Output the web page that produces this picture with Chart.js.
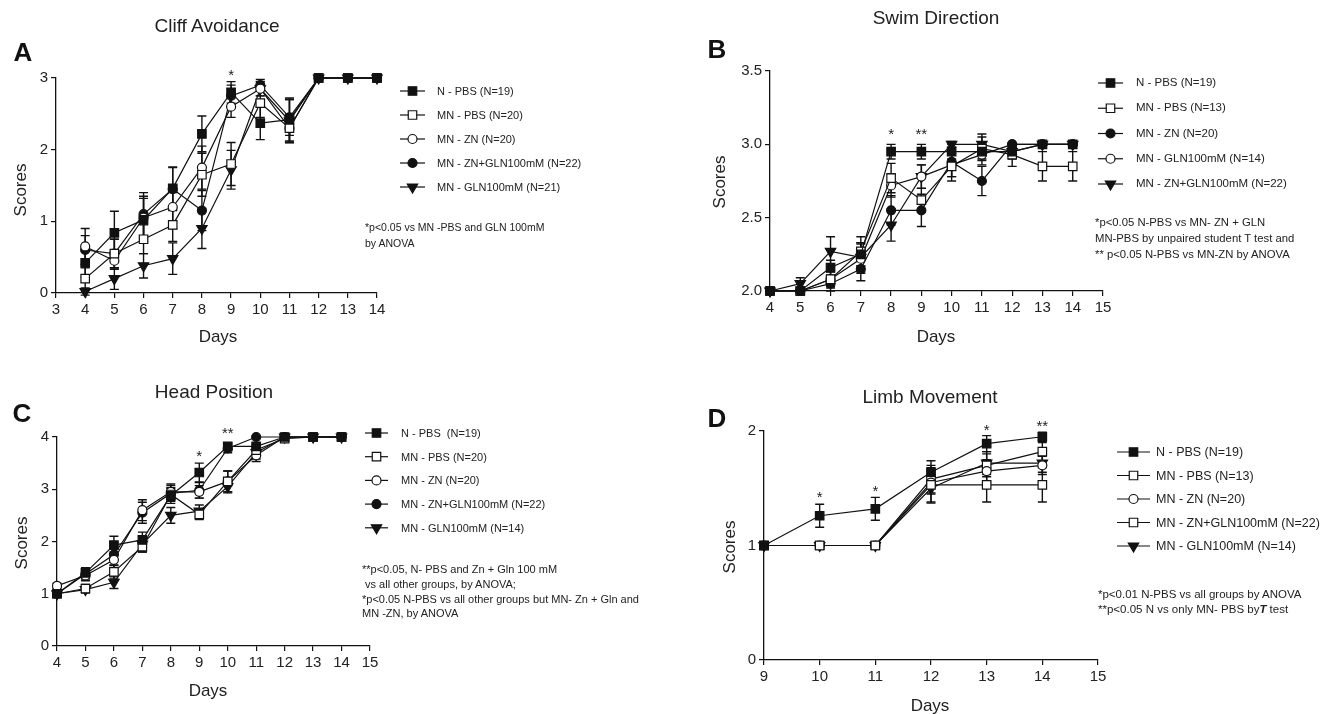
<!DOCTYPE html>
<html>
<head>
<meta charset="utf-8">
<script src="https://cdn.jsdelivr.net/npm/chart.js"></script>
<style>
  body { margin: 0; background: #fff; }
  #wrap { position: relative; width: 1331px; height: 714px; font-family: 'Liberation Sans', Arial, sans-serif; color: #222; }
  #wrap canvas { position: absolute; }
  .t { position: absolute; white-space: pre; line-height: 1; }
</style>
</head>
<body>
<div id="wrap">
  <canvas id="cA" width="665" height="357" style="left:0;top:0"></canvas>
  <canvas id="cB" width="666" height="357" style="left:665px;top:0"></canvas>
  <canvas id="cC" width="665" height="357" style="left:0;top:357px"></canvas>
  <canvas id="cD" width="666" height="357" style="left:665px;top:357px"></canvas>
</div>
<script>
// ---- datos ----
const daysA = [4, 5, 6, 7, 8, 9, 10, 11, 12, 13, 14];
const nPbsA = [0.42, 0.84, 1.02, 1.46, 2.22, 2.80, 2.37, 2.42, 3, 3, 3];
const nPbsErrA = [0.2, 0.3, 0.3, 0.3, 0.25, 0.15, 0.23, 0.3, 0, 0, 0];
const mnPbsA = [0.2, 0.55, 0.75, 0.95, 1.65, 1.80, 2.65, 2.3, 3, 3, 3];
const mnPbsErrA = [0.15, 0.2, 0.2, 0.23, 0.3, 0.3, 0.2, 0.2, 0, 0, 0];
const mnZnA = [0.65, 0.45, 1.05, 1.2, 1.75, 2.6, 2.85, 2.3, 3, 3, 3];
const mnZnErrA = [0.25, 0.12, 0.3, 0.3, 0.3, 0.15, 0.1, 0.2, 0, 0, 0];
const mnZnGlnA = [0.6, 0.55, 1.1, 1.45, 1.15, 2.75, 2.9, 2.45, 3, 3, 3];
const mnZnGlnErrA = [0.2, 0.2, 0.3, 0.3, 0.28, 0.15, 0.08, 0.25, 0, 0, 0];
const mnGlnA = [0.02, 0.2, 0.38, 0.48, 0.9, 1.72, 2.85, 2.4, 3, 3, 3];
const mnGlnErrA = [0.05, 0.15, 0.17, 0.22, 0.28, 0.27, 0.1, 0.3, 0, 0, 0];
const labelsA = ['N - PBS (N=19)', 'MN - PBS (N=20)', 'MN - ZN (N=20)', 'MN - ZN+GLN100mM (N=22)', 'MN - GLN100mM (N=21)'];
const starsA = [{ x: 9, y: 3.1, t: '*' }];

const daysB = [4, 5, 6, 7, 8, 9, 10, 11, 12, 13, 14];
const nPbsB = [2.0, 2.0, 2.16, 2.25, 2.95, 2.95, 2.95, 2.95, 2.95, 3.0, 3.0];
const nPbsErrB = [0, 0, 0.05, 0.08, 0.05, 0.05, 0.05, 0.05, 0.03, 0, 0];
const mnPbsB = [2.0, 2.0, 2.08, 2.27, 2.77, 2.62, 2.85, 2.97, 2.93, 2.85, 2.85];
const mnPbsErrB = [0, 0, 0.06, 0.1, 0.1, 0.08, 0.1, 0.08, 0.08, 0.1, 0.1];
const mnZnB = [2.0, 2.0, 2.05, 2.15, 2.55, 2.55, 2.88, 2.75, 3.0, 3.0, 3.0];
const mnZnErrB = [0, 0, 0.05, 0.08, 0.1, 0.11, 0.1, 0.1, 0, 0, 0];
const mnGlnB = [2.0, 2.0, 2.08, 2.22, 2.72, 2.78, 2.86, 2.93, 3.0, 3.0, 3.0];
const mnGlnErrB = [0, 0, 0.05, 0.1, 0.08, 0.08, 0.08, 0.07, 0, 0, 0];
const mnZnGlnB = [2.0, 2.05, 2.27, 2.23, 2.45, 2.78, 3.0, 3.0, 2.95, 3.0, 3.0];
const mnZnGlnErrB = [0, 0.04, 0.1, 0.1, 0.11, 0.08, 0.02, 0.07, 0.05, 0, 0];
const labelsB = ['N - PBS (N=19)', 'MN - PBS (N=13)', 'MN - ZN (N=20)', 'MN - GLN100mM (N=14)', 'MN - ZN+GLN100mM (N=22)'];
const starsB = [{ x: 8, y: 3.1, t: '*' }, { x: 9, y: 3.1, t: '**' }];

const daysC = [4, 5, 6, 7, 8, 9, 10, 11, 12, 13, 14];
const nPbsC = [1.0, 1.4, 1.93, 2.03, 2.88, 3.32, 3.82, 3.82, 4, 4, 4];
const nPbsErrC = [0.05, 0.1, 0.17, 0.15, 0.15, 0.18, 0.06, 0.06, 0, 0, 0];
const mnPbsC = [1.0, 1.1, 1.42, 1.9, 2.9, 2.52, 3.15, 3.75, 3.97, 4, 4];
const mnPbsErrC = [0.05, 0.08, 0.12, 0.1, 0.12, 0.1, 0.2, 0.1, 0.04, 0, 0];
const mnZnC = [1.15, 1.35, 1.65, 2.6, 2.95, 2.95, 3.15, 3.65, 4, 4, 4];
const mnZnErrC = [0.05, 0.1, 0.15, 0.2, 0.15, 0.12, 0.2, 0.12, 0, 0, 0];
const mnZnGlnC = [1.0, 1.38, 1.75, 2.55, 2.92, 2.98, 3.78, 4.0, 4, 4, 4];
const mnZnGlnErrC = [0.04, 0.1, 0.2, 0.2, 0.15, 0.15, 0.08, 0.02, 0, 0, 0];
const mnGlnC = [1.0, 1.08, 1.22, 1.95, 2.5, 2.58, 3.05, 3.7, 4, 4, 4];
const mnGlnErrC = [0.04, 0.06, 0.12, 0.15, 0.15, 0.12, 0.12, 0.12, 0, 0, 0];
const labelsC = ['N - PBS  (N=19)', 'MN - PBS (N=20)', 'MN - ZN (N=20)', 'MN - ZN+GLN100mM (N=22)', 'MN - GLN100mM (N=14)'];
const starsC = [{ x: 9, y: 3.72, t: '*' }, { x: 10, y: 4.15, t: '**' }];

const daysD = [9, 10, 11, 12, 13, 14];
const nPbsD = [1.0, 1.26, 1.32, 1.64, 1.89, 1.95];
const nPbsErrD = [0, 0.1, 0.1, 0.1, 0.07, 0.04];
const mnPbsD = [1.0, 1.0, 1.0, 1.53, 1.53, 1.53];
const mnPbsErrD = [0, 0, 0, 0.15, 0.15, 0.15];
const mnZnD = [1.0, 1.0, 1.0, 1.55, 1.65, 1.7];
const mnZnErrD = [0, 0, 0, 0.1, 0.1, 0.08];
const mnZnGlnD = [1.0, 1.0, 1.0, 1.58, 1.7, 1.82];
const mnZnGlnErrD = [0, 0, 0, 0.12, 0.1, 0.08];
const mnGlnD = [1.0, 1.0, 1.0, 1.5, 1.72, 1.72];
const mnGlnErrD = [0, 0, 0, 0.13, 0.1, 0.08];
const labelsD = ['N - PBS (N=19)', 'MN - PBS (N=13)', 'MN - ZN (N=20)', 'MN - ZN+GLN100mM (N=22)', 'MN - GLN100mM (N=14)'];
const starsD = [{ x: 10, y: 1.46, t: '*' }, { x: 11, y: 1.51, t: '*' }, { x: 13, y: 2.04, t: '*' }, { x: 14, y: 2.08, t: '**' }];

// ---- marcadores ----
const INK = '#111';
const sqFill = { pointStyle: 'rect', radius: 6, rotation: 0, bg: INK };
const sqOpen = { pointStyle: 'rect', radius: 6, rotation: 0, bg: '#fff' };
const ciFill = { pointStyle: 'circle', radius: 4.5, rotation: 0, bg: INK };
const ciOpen = { pointStyle: 'circle', radius: 4.5, rotation: 0, bg: '#fff' };
const triDown = { pointStyle: 'triangle', radius: 6, rotation: 180, bg: INK };

function serie(days, vals, errs, label, m) {
  return {
    label: label,
    data: days.map((d, i) => ({ x: d, y: vals[i] })),
    errors: errs,
    borderColor: INK,
    borderWidth: 1.2,
    pointStyle: m.pointStyle,
    pointRotation: m.rotation,
    pointRadius: m.radius,
    pointHoverRadius: m.radius,
    pointBackgroundColor: m.bg,
    pointBorderColor: INK,
    pointBorderWidth: 1.2,
    tension: 0,
    fill: false,
    clip: false
  };
}

// barras de error, asteriscos y simbolos de leyenda
const extras = {
  id: 'extras',
  beforeDatasetsDraw(chart) {
    const { ctx, scales: { x, y } } = chart;
    ctx.save();
    ctx.strokeStyle = INK;
    ctx.lineWidth = 1.4;
    chart.data.datasets.forEach(ds => {
      ds.data.forEach((p, i) => {
        const e = ds.errors[i];
        if (!e) return;
        const px = x.getPixelForValue(p.x);
        const yt = y.getPixelForValue(p.y + e);
        const yb = y.getPixelForValue(p.y - e);
        ctx.beginPath();
        ctx.moveTo(px, yt); ctx.lineTo(px, yb);
        ctx.moveTo(px - 4.5, yt); ctx.lineTo(px + 4.5, yt);
        ctx.moveTo(px - 4.5, yb); ctx.lineTo(px + 4.5, yb);
        ctx.stroke();
      });
    });
    ctx.restore();
  },
  afterDraw(chart) {
    const { ctx, scales: { x, y } } = chart;
    const o = chart.options.plugins.extras;
    ctx.save();
    ctx.fillStyle = '#222';
    ctx.font = '15px "Liberation Sans", Arial, sans-serif';
    ctx.textAlign = 'center';
    ctx.textBaseline = 'alphabetic';
    o.stars.forEach(s => {
      ctx.fillText(s.t, x.getPixelForValue(s.x), y.getPixelForValue(s.y) + 9);
    });
    const lg = o.legend;
    chart.data.datasets.forEach((ds, i) => {
      const ly = lg.y0 + i * lg.dy;
      ctx.strokeStyle = INK;
      ctx.lineWidth = 1.2;
      ctx.beginPath();
      ctx.moveTo(lg.x1, ly); ctx.lineTo(lg.x2, ly);
      ctx.stroke();
      ctx.fillStyle = ds.pointBackgroundColor;
      ctx.strokeStyle = INK;
      Chart.helpers.drawPoint(ctx, {
        pointStyle: ds.pointStyle, rotation: ds.pointRotation,
        radius: ds.pointRadius, borderWidth: 1.2
      }, (lg.x1 + lg.x2) / 2, ly);
    });
    ctx.restore();
  }
};

function axisCfg(min, max, step, fit, fmt) {
  return {
    type: 'linear', min: min, max: max,
    afterFit: fit,
    ticks: {
      stepSize: step, autoSkip: false, color: '#222', padding: 3,
      font: { size: 15, family: "'Liberation Sans', Arial, sans-serif" },
      callback: fmt || (v => String(v))
    },
    grid: { display: true, drawOnChartArea: false, drawTicks: true, tickLength: 5, color: INK, lineWidth: 1.2 },
    border: { display: true, color: INK, width: 1.3 }
  };
}

// L,R,T,B = zona del grafico en coordenadas del canvas
function panel(id, W, H, area, xr, yr, datasets, stars, legend, yFmt) {
  return new Chart(document.getElementById(id), {
    type: 'line',
    data: { datasets: datasets },
    options: {
      responsive: false,
      animation: false,
      events: [],
      layout: { padding: { left: area.L - 40, right: W - area.R, top: area.T, bottom: H - area.B - 30 } },
      scales: {
        x: axisCfg(xr[0], xr[1], 1, s => { s.height = 30; }),
        y: axisCfg(yr[0], yr[1], yr[2], s => { s.width = 40; }, yFmt)
      },
      plugins: {
        legend: { display: false },
        tooltip: { enabled: false },
        extras: { stars: stars, legend: legend }
      }
    },
    plugins: [extras]
  });
}

panel('cA', 665, 357, { L: 56, R: 377, T: 78, B: 293 }, [3, 14], [0, 3, 1], [
  serie(daysA, nPbsA, nPbsErrA, labelsA[0], sqFill),
  serie(daysA, mnPbsA, mnPbsErrA, labelsA[1], sqOpen),
  serie(daysA, mnZnA, mnZnErrA, labelsA[2], ciOpen),
  serie(daysA, mnZnGlnA, mnZnGlnErrA, labelsA[3], ciFill),
  serie(daysA, mnGlnA, mnGlnErrA, labelsA[4], triDown)
], starsA, { x1: 400, x2: 425, y0: 91, dy: 24 });

panel('cB', 666, 357, { L: 105, R: 438, T: 71, B: 291 }, [4, 15], [2, 3.5, 0.5], [
  serie(daysB, nPbsB, nPbsErrB, labelsB[0], sqFill),
  serie(daysB, mnPbsB, mnPbsErrB, labelsB[1], sqOpen),
  serie(daysB, mnZnB, mnZnErrB, labelsB[2], ciFill),
  serie(daysB, mnGlnB, mnGlnErrB, labelsB[3], ciOpen),
  serie(daysB, mnZnGlnB, mnZnGlnErrB, labelsB[4], triDown)
], starsB, { x1: 433, x2: 458, y0: 83, dy: 25.25 }, v => v.toFixed(1));

panel('cC', 665, 357, { L: 57, R: 370, T: 80, B: 289 }, [4, 15], [0, 4, 1], [
  serie(daysC, nPbsC, nPbsErrC, labelsC[0], sqFill),
  serie(daysC, mnPbsC, mnPbsErrC, labelsC[1], sqOpen),
  serie(daysC, mnZnC, mnZnErrC, labelsC[2], ciOpen),
  serie(daysC, mnZnGlnC, mnZnGlnErrC, labelsC[3], ciFill),
  serie(daysC, mnGlnC, mnGlnErrC, labelsC[4], triDown)
], starsC, { x1: 365, x2: 388, y0: 76, dy: 23.7 });

panel('cD', 666, 357, { L: 99, R: 433, T: 74, B: 303 }, [9, 15], [0, 2, 1], [
  serie(daysD, nPbsD, nPbsErrD, labelsD[0], sqFill),
  serie(daysD, mnPbsD, mnPbsErrD, labelsD[1], sqOpen),
  serie(daysD, mnZnD, mnZnErrD, labelsD[2], ciOpen),
  serie(daysD, mnZnGlnD, mnZnGlnErrD, labelsD[3], sqOpen),
  serie(daysD, mnGlnD, mnGlnErrD, labelsD[4], triDown)
], starsD, { x1: 452, x2: 485, y0: 95, dy: 23.5 });

// ---- textos ----
const wrap = document.getElementById('wrap');
function txt(s, x, y, size, mode, extra) {
  const d = document.createElement('div');
  d.className = 't';
  d.style.left = x + 'px';
  d.style.top = y + 'px';
  d.style.fontSize = size + 'px';
  if (mode === 'c') d.style.transform = 'translate(-50%,-50%)';
  else if (mode === 'r') d.style.transform = 'translate(-50%,-50%) rotate(-90deg)';
  else d.style.transform = 'translateY(-50%)';
  if (extra) Object.assign(d.style, extra);
  d.innerHTML = s;
  wrap.appendChild(d);
}
const bold = { fontWeight: 'bold', color: '#111' };

// A
txt('Cliff Avoidance', 217, 25, 19, 'c');
txt('A', 23, 52, 26, 'c', bold);
txt('Scores', 20, 190, 17, 'r');
txt('Days', 218, 336, 17, 'c');
labelsA.forEach((l, i) => txt(l, 437, 91 + i * 24, 11, 'l'));
txt('*p&lt;0.05 vs MN -PBS and GLN 100mM', 365, 227, 10.5, 'l');
txt('by ANOVA', 365, 243, 10.5, 'l');

// B
txt('Swim Direction', 936, 17, 19, 'c');
txt('B', 717, 49, 26, 'c', bold);
txt('Scores', 719, 182, 17, 'r');
txt('Days', 936, 336, 17, 'c');
labelsB.forEach((l, i) => txt(l, 1136, 83 + i * 25.25, 11.5, 'l'));
txt('*p&lt;0.05 N-PBS vs MN- ZN + GLN', 1095, 223, 11.3, 'l');
txt('MN-PBS by unpaired student T test and', 1095, 239, 11.3, 'l');
txt('** p&lt;0.05 N-PBS vs MN-ZN by ANOVA', 1095, 255, 11.3, 'l');

// C
txt('Head Position', 214, 391, 19, 'c');
txt('C', 22, 413, 26, 'c', bold);
txt('Scores', 21, 543, 17, 'r');
txt('Days', 208, 690, 17, 'c');
labelsC.forEach((l, i) => txt(l, 401, 433 + i * 23.7, 11, 'l'));
txt('**p&lt;0.05, N- PBS and Zn + Gln 100 mM', 362, 569, 11, 'l');
txt(' vs all other groups, by ANOVA;', 362, 584, 11, 'l');
txt('*p&lt;0.05 N-PBS vs all other groups but MN- Zn + Gln and', 362, 599, 11, 'l');
txt('MN -ZN, by ANOVA', 362, 613, 11, 'l');

// D
txt('Limb Movement', 930, 396, 19, 'c');
txt('D', 717, 418, 26, 'c', bold);
txt('Scores', 729, 547, 17, 'r');
txt('Days', 930, 705, 17, 'c');
labelsD.forEach((l, i) => txt(l, 1156, 452 + i * 23.5, 12.5, 'l'));
txt('*p&lt;0.01 N-PBS vs all groups by ANOVA', 1098, 595, 11.5, 'l');
txt('**p&lt;0.05 N vs only MN- PBS by<b><i>T</i></b> test', 1098, 610, 11.5, 'l');
</script>
</body>
</html>
